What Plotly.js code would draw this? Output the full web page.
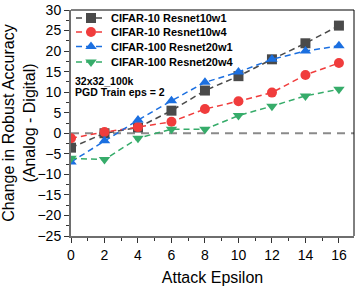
<!DOCTYPE html>
<html><head><meta charset="utf-8">
<script src="https://cdn.plot.ly/plotly-3.0.1.min.js"></script>
<style>body{margin:0;padding:0;background:#fff}#c{width:357px;height:286px}</style>
</head><body><div id="c"></div>
<script>
const epsilon = [0, 2, 4, 6, 8, 10, 12, 14, 16];
const c10w1 = [-3.5, 0.0, 1.4, 5.5, 10.4, 13.9, 18.0, 21.9, 26.2];
const c10w4 = [-1.2, 0.3, 1.5, 2.8, 5.9, 7.8, 9.9, 14.2, 17.1];
const c100w1 = [-7.0, -1.8, 3.2, 7.9, 12.4, 14.9, 18.0, 20.0, 21.3];
const c100w4 = [-6.1, -6.4, -1.2, 1.0, 1.0, 4.3, 6.6, 9.1, 10.7];
const names = ["CIFAR-10 Resnet10w1", "CIFAR-10 Resnet10w4", "CIFAR-100 Resnet20w1", "CIFAR-100 Resnet20w4"];
const refX = [0, 17];
const refY = [0, 0];

const colors = ["#4a4a4a", "#f03c3c", "#1b6fe0", "#36ac6a"];
const symbols = ["square", "circle", "triangle-up", "triangle-down"];
const series = [c10w1, c10w4, c100w1, c100w4];
const legendIds = ["legend", "legend2", "legend3", "legend4"];
const legendY = [0.965, 0.903, 0.838, 0.770];

const traces = [{
  x: refX, y: refY, mode: "lines", showlegend: false, hoverinfo: "skip",
  line: {color: "#8a8a8a", width: 2, dash: "8px,6px"}
}];
series.forEach((s, i) => traces.push({
  x: epsilon, y: s, name: names[i], mode: "lines+markers", legend: legendIds[i],
  line: {color: colors[i], width: 1.5, dash: "6px,4px"},
  marker: {color: colors[i], symbol: symbols[i], size: 10}
}));

const layout = {
  width: 357, height: 286,
  margin: {l: 71, r: 3, t: 7, b: 50},
  paper_bgcolor: "#fff", plot_bgcolor: "#fff",
  font: {family: "Arial, Liberation Sans, sans-serif", color: "#000"},
  showlegend: true,
  xaxis: {range: [0, 16.9], tickvals: epsilon, ticks: "outside", ticklen: 5, tickwidth: 1,
    tickcolor: "#333", showgrid: false, zeroline: false, showline: true, linecolor: "#6e6e6e",
    linewidth: 2, tickfont: {size: 14}, title: {text: "Attack Epsilon", font: {size: 16}, standoff: 12},
    minor: {ticks: "outside", ticklen: 3, dtick: 1, tickcolor: "#333", showgrid: false}},
  yaxis: {range: [-25, 30], dtick: 5, ticks: "outside", ticklen: 5, tickwidth: 1,
    tickcolor: "#333", showgrid: false, zeroline: false, showline: true, linecolor: "#6e6e6e",
    linewidth: 2, tickfont: {size: 14},
    title: {text: "Change in Robust Accuracy<br>(Analog - Digital)", font: {size: 16}, standoff: 6},
    minor: {ticks: "outside", ticklen: 3, dtick: 2.5, tickcolor: "#333", showgrid: false}},
  shapes: [
    {type: "line", xref: "paper", yref: "paper", x0: 0, x1: 1, y0: 1, y1: 1, line: {color: "#000", width: 1}},
    {type: "line", xref: "paper", yref: "paper", x0: 1, x1: 1, y0: 0, y1: 1, line: {color: "#000", width: 1}}
  ],
  annotations: [
    {xref: "paper", yref: "paper", x: 0.006, y: 0.686, xanchor: "left", yanchor: "middle", showarrow: false,
     text: "<b>32x32_100k</b>", font: {size: 10.5}},
    {xref: "paper", yref: "paper", x: 0.006, y: 0.636, xanchor: "left", yanchor: "middle", showarrow: false,
     text: "<b>PGD Train eps = 2</b>", font: {size: 10.5}}
  ]
};
legendIds.forEach((id, i) => {
  layout[id] = {x: 0.0, y: legendY[i], xanchor: "left", yanchor: "middle", bgcolor: "rgba(0,0,0,0)",
    font: {size: 11, family: "Arial, Liberation Sans, sans-serif", weight: "bold"}, itemwidth: 30};
});
Plotly.newPlot("c", traces, layout, {staticPlot: true});
</script></body></html>
